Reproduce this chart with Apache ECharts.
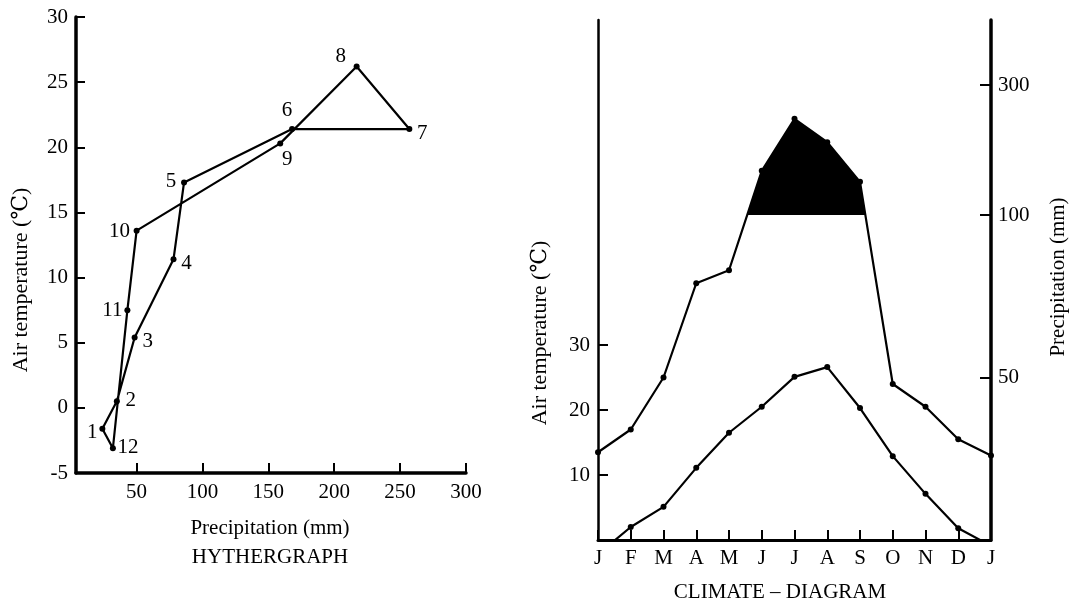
<!DOCTYPE html>
<html>
<head>
<meta charset="utf-8">
<title>Hythergraph and climate diagram</title>
<script src="https://cdn.jsdelivr.net/npm/echarts@6/dist/echarts.min.js"></script>
<style>
  html, body { margin: 0; padding: 0; background: #fff; }
  #chart { width: 1084px; height: 610px; }
</style>
</head>
<body>
<div id="chart"></div>
<script>
const FONT = '"Liberation Serif", "DejaVu Serif", "Noto Sans CJK JP", serif';

// hythergraph: monthly precipitation (mm) against air temperature (°C)
const hyMonths = ['1', '2', '3', '4', '5', '6', '7', '8', '9', '10', '11', '12'];
const hyPrecip = [24, 35, 48.5, 78, 86, 168, 257, 217, 159, 50, 43, 32];
const hyTemp = [-1.6, 0.5, 5.4, 11.4, 17.3, 21.4, 21.4, 26.2, 20.3, 13.6, 7.5, -3.1];
const hyPrecipTicks = [50, 100, 150, 200, 250, 300];

// climate diagram (Walter): temperature and precipitation per month
const cdMonths = ['J', 'F', 'M', 'A', 'M', 'J', 'J', 'A', 'S', 'O', 'N', 'D', 'J'];
const cdTemp = [-2.2, 2.0, 5.1, 11.1, 16.5, 20.5, 25.1, 26.6, 20.3, 12.9, 7.1, 1.8, -0.9];
const cdPrecip = [27, 34, 50, 79, 83, 168, 248, 212, 151, 48, 41, 31, 26];
const cdTempTicks = [10, 20, 30];
const cdPrecipTicks = [50, 100, 300];
const HUMID_LIMIT = 100;

// where each month number sits next to its point (layout only)
const hyLabelOffset = [[-10, 4], [14, -1], [13, 4], [13, 4], [-13, -1], [-5, -19],
  [13, 4], [-16, -10], [7, 16], [-17, 1], [-15, 0], [15, -1]];

// 10 °C = 20 mm; above 100 mm the scale is reduced to 1/10
function precipToScale(p) { return p <= 100 ? p / 2 : 50 + (p - 100) / 10; }
function scaleToPrecip(v) { return v <= 50 ? v * 2 : 100 + (v - 50) * 10; }

const chart = echarts.init(document.getElementById('chart'));

const black = '#000';
const labelStyle = { color: black, fontFamily: FONT, fontSize: 21 };

const hyData = hyMonths.map((m, i) => ({
  value: [hyPrecip[i], hyTemp[i]],
  label: { show: true, formatter: m, position: 'inside', offset: hyLabelOffset[i] }
}));
// close the loop back to January
hyData.push({ value: [hyPrecip[0], hyTemp[0]], symbol: 'none', label: { show: false } });

function txt(text, x, y, rotation, size) {
  return {
    type: 'text', x: x, y: y, rotation: rotation, silent: true,
    style: {
      text: text, font: size + 'px ' + FONT, fill: black,
      align: 'center', verticalAlign: 'middle',
      textAlign: 'center', textVerticalAlign: 'middle'
    }
  };
}

const option = {
  animation: false,
  backgroundColor: '#fff',
  textStyle: { fontFamily: FONT, color: black },
  grid: [
    { left: 76, top: 17, width: 390, height: 456, outerBoundsMode: 'none' },
    { left: 598, top: 20, width: 393, height: 520, outerBoundsMode: 'none' }
  ],
  xAxis: [
    {
      gridIndex: 0, type: 'value', min: 4, max: 300,
      axisLine: { show: true, onZero: false, lineStyle: { color: black, width: 3.5 } },
      axisTick: { show: true, inside: true, length: 10, customValues: hyPrecipTicks, lineStyle: { color: black, width: 2 } },
      axisLabel: Object.assign({ customValues: hyPrecipTicks, margin: 9 }, labelStyle),
      splitLine: { show: false }
    },
    {
      gridIndex: 1, type: 'category', data: cdMonths, boundaryGap: false, z: 10,
      axisLine: { show: true, onZero: false, lineStyle: { color: black, width: 3 } },
      axisTick: { show: true, inside: true, length: 10, interval: 0, lineStyle: { color: black, width: 2 } },
      axisLabel: Object.assign({ interval: 0, margin: 8 }, labelStyle),
      splitLine: { show: false }
    }
  ],
  yAxis: [
    {
      gridIndex: 0, type: 'value', min: -5, max: 30, interval: 5,
      axisLine: { show: true, onZero: false, lineStyle: { color: black, width: 3.5 } },
      axisTick: { show: true, inside: true, length: 9, lineStyle: { color: black, width: 2 } },
      axisLabel: Object.assign({ margin: 8 }, labelStyle),
      splitLine: { show: false }
    },
    {
      gridIndex: 1, type: 'value', min: 0, max: 80, z: 10,
      axisLine: { show: true, onZero: false, lineStyle: { color: black, width: 2.5 } },
      axisTick: { show: true, inside: true, length: 10, customValues: cdTempTicks, lineStyle: { color: black, width: 2 } },
      axisLabel: Object.assign({ customValues: cdTempTicks, margin: 8 }, labelStyle),
      splitLine: { show: false }
    },
    {
      gridIndex: 1, type: 'value', position: 'right', min: 0, max: 80, z: 10,
      axisLine: { show: true, onZero: false, lineStyle: { color: black, width: 3.5 } },
      axisTick: { show: true, inside: true, length: 11, customValues: cdPrecipTicks.map(precipToScale), lineStyle: { color: black, width: 2 } },
      axisLabel: Object.assign({
        customValues: cdPrecipTicks.map(precipToScale), margin: 7,
        formatter: v => String(Math.round(scaleToPrecip(v)))
      }, labelStyle),
      splitLine: { show: false }
    }
  ],
  series: [
    {
      name: 'Hythergraph', type: 'line', xAxisIndex: 0, yAxisIndex: 0,
      data: hyData, symbol: 'circle', symbolSize: 6, showAllSymbol: true,
      lineStyle: { color: black, width: 2.2 }, itemStyle: { color: black },
      label: labelStyle, emphasis: { disabled: true }, z: 4
    },
    {
      // black fill for the humid season above 100 mm
      name: 'Humid', type: 'line', xAxisIndex: 1, yAxisIndex: 2,
      data: cdPrecip.map(precipToScale), symbol: 'none',
      lineStyle: { width: 0, opacity: 0 }, areaStyle: { color: black, opacity: 1 },
      emphasis: { disabled: true }, z: 2
    },
    {
      // masks everything under the 100 mm limit
      name: 'Limit', type: 'line', xAxisIndex: 1, yAxisIndex: 2,
      data: cdMonths.map(() => precipToScale(HUMID_LIMIT)), symbol: 'none',
      lineStyle: { width: 0, opacity: 0 }, areaStyle: { color: '#fff', opacity: 1 },
      emphasis: { disabled: true }, z: 3
    },
    {
      name: 'Precipitation', type: 'line', xAxisIndex: 1, yAxisIndex: 2,
      data: cdPrecip.map(precipToScale), symbol: 'circle', symbolSize: 6, showAllSymbol: true,
      lineStyle: { color: black, width: 2.2 }, itemStyle: { color: black },
      emphasis: { disabled: true }, z: 4
    },
    {
      name: 'Temperature', type: 'line', xAxisIndex: 1, yAxisIndex: 1,
      data: cdTemp, symbol: 'circle', symbolSize: 6, showAllSymbol: true,
      lineStyle: { color: black, width: 2.2 }, itemStyle: { color: black },
      emphasis: { disabled: true }, z: 4
    }
  ],
  graphic: [
    txt('Air temperature (℃)', 21, 280, Math.PI / 2, 22),
    txt('Precipitation (mm)', 270, 528, 0, 21),
    txt('HYTHERGRAPH', 270, 557, 0, 21),
    txt('Air temperature (℃)', 540, 333, Math.PI / 2, 22),
    txt('Precipitation (mm)', 1058, 277, Math.PI / 2, 21),
    txt('CLIMATE – DIAGRAM', 780, 592, 0, 21)
  ]
};

chart.setOption(option);
window.addEventListener('resize', () => chart.resize());
</script>
</body>
</html>
